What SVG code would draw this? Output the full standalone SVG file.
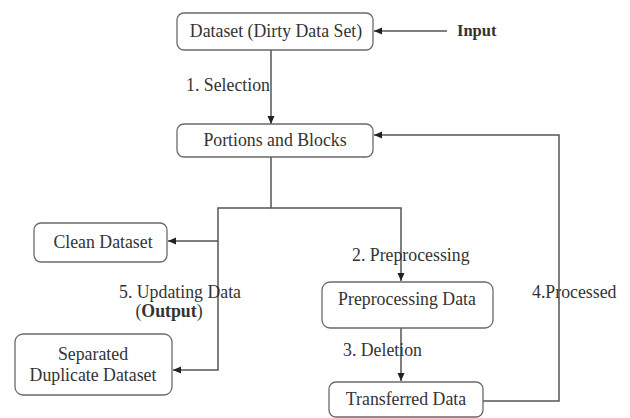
<svg xmlns="http://www.w3.org/2000/svg" width="630" height="418" viewBox="0 0 630 418">
<style>
.box{fill:#fff;stroke:#6a6a6a;stroke-width:1.3}
.t{font-family:"Liberation Serif","Times New Roman",serif;font-size:17.8px;fill:#333}
.c{text-anchor:middle}
.b{font-weight:bold}
.ln{fill:none;stroke:#555;stroke-width:1.5}
</style>
<defs>
<marker id="ah" markerUnits="userSpaceOnUse" markerWidth="9" markerHeight="8" refX="8" refY="3.5" orient="auto">
<path d="M0,0 L8,3.5 L0,7 z" fill="#222"/>
</marker>
</defs>
<rect width="630" height="418" fill="#fff"/>
<g id="connectors">
<path class="ln" d="M447,31 L374,31" marker-end="url(#ah)"/>
<path class="ln" d="M271,50 L271,124" marker-end="url(#ah)"/>
<path class="ln" d="M271,157 L271,208 L401,208 L401,281" marker-end="url(#ah)"/>
<path class="ln" d="M271,208 L218,208 L218,370 L173,370" marker-end="url(#ah)"/>
<path class="ln" d="M218,241 L168,241" marker-end="url(#ah)"/>
<path class="ln" d="M401,328 L401,381" marker-end="url(#ah)"/>
<path class="ln" d="M483,401 L559,401 L559,135 L374,135" marker-end="url(#ah)"/>
<text class="t" x="186" y="91">1. Selection</text>
<text class="t" x="352" y="261">2. Preprocessing</text>
<text class="t" x="343" y="356">3. Deletion</text>
<text class="t" x="532" y="298">4.Processed</text>
<text class="t" x="119" y="298">5. Updating Data</text>
<text class="t" x="169" y="317" text-anchor="middle">(<tspan class="b">Output</tspan>)</text>
<text class="t b" x="457" y="36" style="font-size:16.5px">Input</text>
</g>
<g id="dataset">
<rect class="box" x="177" y="13" width="196" height="37" rx="7"/>
<text class="t c" x="276" y="37">Dataset (Dirty Data Set)</text>
</g>
<g id="portions">
<rect class="box" x="177" y="124" width="196" height="33" rx="7"/>
<text class="t c" x="275" y="146">Portions and Blocks</text>
</g>
<g id="clean">
<rect class="box" x="34" y="223" width="133" height="39" rx="7"/>
<text class="t c" x="103" y="248">Clean Dataset</text>
</g>
<g id="separated">
<rect class="box" x="15" y="334" width="157" height="61" rx="8"/>
<text class="t c" x="93" y="360">Separated</text>
<text class="t c" x="93" y="381">Duplicate Dataset</text>
</g>
<g id="preproc">
<rect class="box" x="322" y="282" width="171" height="46" rx="8"/>
<text class="t c" x="407" y="305">Preprocessing Data</text>
</g>
<g id="transferred">
<rect class="box" x="329" y="382" width="154" height="35" rx="7"/>
<text class="t c" x="406" y="405">Transferred Data</text>
</g>
</svg>
